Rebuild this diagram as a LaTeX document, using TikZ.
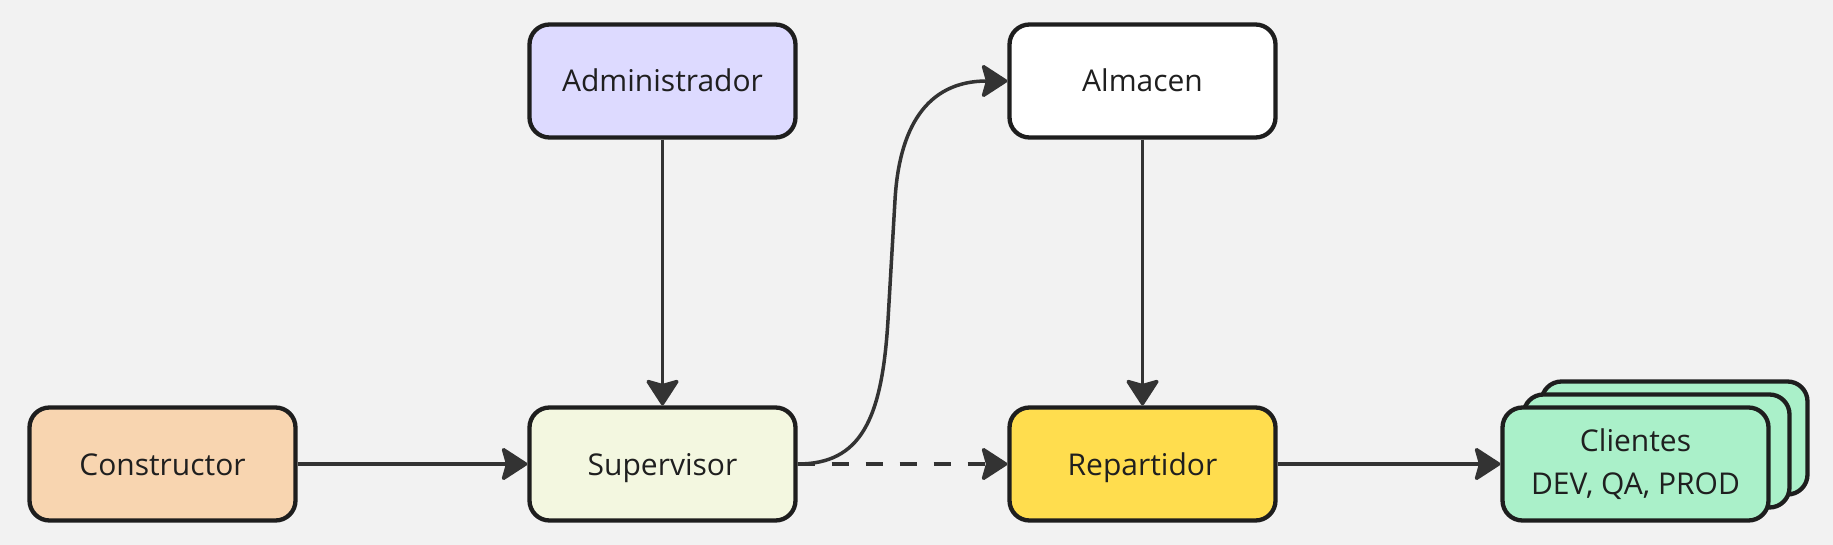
\documentclass[tikz,border=0pt]{standalone}
\usepackage{fontspec}
\setmainfont{Open Sans}
\usetikzlibrary{arrows.meta}
\definecolor{bgc}{HTML}{F2F2F2}
\definecolor{bordc}{HTML}{1E1E1E}
\definecolor{edgec}{HTML}{333333}
\definecolor{textc}{HTML}{1F1F1F}
\definecolor{admc}{HTML}{DDDAFF}
\definecolor{conc}{HTML}{F8D5B0}
\definecolor{supc}{HTML}{F3F7E0}
\definecolor{almc}{HTML}{FFFFFF}
\definecolor{repc}{HTML}{FFDD4E}
\definecolor{clic}{HTML}{AAF0C9}
\begin{document}
\begin{tikzpicture}[x=1pt,y=-1pt,
  box/.style={draw=bordc, line width=4.3pt, rounded corners=20pt,
    minimum width=266pt, minimum height=113pt, inner sep=0pt,
    font=\fontsize{30}{43}\selectfont, text=textc, align=center},
  oneline/.style={text height=22pt, text depth=0pt},
  edge/.style={draw=edgec, line width=3.5pt,
    -{Stealth[length=28pt,width=36pt,inset=5pt,round,fill=edgec]}}]
\fill[bgc] (0,0) rectangle (1833,545);
\useasboundingbox (0,0) rectangle (1833,545);
\node[box, oneline, fill=admc] (adm) at (662.5,81) {Administrador};
\node[box, oneline, fill=almc] (alm) at (1142.5,81) {Almacen};
\node[box, oneline, fill=conc] (con) at (162.5,464) {Constructor};
\node[box, oneline, fill=supc] (sup) at (662.5,464) {Supervisor};
\node[box, oneline, fill=repc] (rep) at (1142.5,464) {Repartidor};
\node[box, fill=clic] (cli3) at (1674.5,438) {};
\node[box, fill=clic] (cli2) at (1656.5,451) {};
\node[box, fill=clic] (cli) at (1635.5,464) {Clientes\\DEV, QA, PROD};
\draw[edge] (con) -- (sup);
\draw[edge] (adm) -- (sup);
\draw[edge] (alm) -- (rep);
\draw[edge] (rep) -- (cli);
\draw[edge, dash pattern=on 17pt off 17pt] (sup) -- (rep);
\draw[edge] (sup.east) .. controls +(63,0) and (882,420) .. (888,320) -- (895,200) .. controls (899,130) and (925,81) .. (alm.west);
\end{tikzpicture}
\end{document}
